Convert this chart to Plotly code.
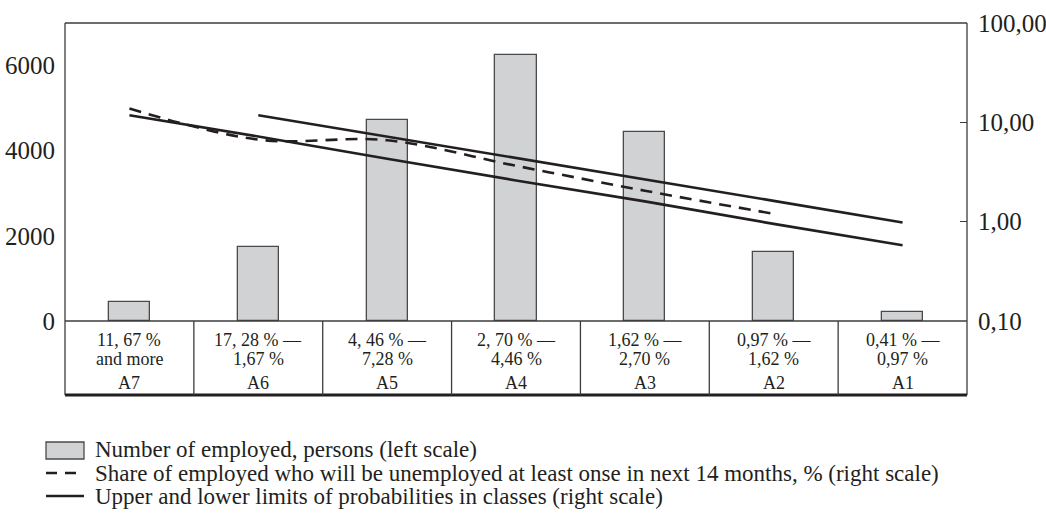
import plotly.graph_objects as go

# ---- data -----------------------------------------------------------------
classes = ["A7", "A6", "A5", "A4", "A3", "A2", "A1"]
range_top = ["11, 67 %", "17, 28 % —", "4, 46 % —", "2, 70 % —",
             "1,62 % —", "0,97 % —", "0,41 % —"]
range_bottom = ["and more", "1,67 %", "7,28 %", "4,46 %",
                "2,70 %", "1,62 %", "0,97 %"]

employed = [450, 1750, 4730, 6250, 4450, 1620, 220]          # persons, left scale
share_unemployed = [13.8, 6.7, 6.6, 3.65, 2.05, 1.20, None]  # %, right scale
upper_limit = [None, 11.8, 7.2, 4.4, 2.65, 1.62, 0.98]        # %, right scale
lower_limit = [11.8, 7.2, 4.3, 2.6, 1.6, 0.95, 0.58]          # %, right scale

left_ticks = [0, 2000, 4000, 6000]
right_ticks = [0.1, 1, 10, 100]
right_ticktext = ["0,10", "1,00", "10,00", "100,00"]

legend_labels = [
    "Number of employed, persons (left scale)",
    "Share of employed who will be unemployed at least onse in next 14 months, % (right scale)",
    "Upper and lower limits of probabilities in classes (right scale)",
]

# ---- styling --------------------------------------------------------------
W, H = 1046, 513
ML, MR, MT, MB = 65, 79, 23, 192
PLOT_W = W - ML - MR
PLOT_H = H - MT - MB
FONT = "Liberation Serif, Times New Roman, serif"
INK = "#231f20"
FRAME = "#3c3c3c"
BAR_FILL = "#d1d2d4"


def px_x(px):
    """Horizontal page pixel -> paper coordinate."""
    return (px - ML) / PLOT_W


def px_y(py):
    """Vertical page pixel -> paper coordinate."""
    return (H - MB - py) / PLOT_H


fig = go.Figure()

fig.add_trace(go.Bar(
    x=classes, y=employed, name=legend_labels[0], yaxis="y",
    width=0.32, marker=dict(color=BAR_FILL, line=dict(color="#4a4a4a", width=1.3)),
    showlegend=False,
))
fig.add_trace(go.Scatter(
    x=classes, y=share_unemployed, name=legend_labels[1], yaxis="y2",
    mode="lines", line=dict(color=INK, width=2.6, dash="12px,8px",
                            shape="spline", smoothing=1.0),
    showlegend=False,
))
fig.add_trace(go.Scatter(
    x=classes, y=upper_limit, name="Upper limit", yaxis="y2",
    mode="lines", line=dict(color=INK, width=2.6), showlegend=False,
))
fig.add_trace(go.Scatter(
    x=classes, y=lower_limit, name="Lower limit", yaxis="y2",
    mode="lines", line=dict(color=INK, width=2.6), showlegend=False,
))

shapes = []
table_bottom = px_y(395)

# frame of plot + class table
shapes.append(dict(type="line", xref="paper", yref="paper", x0=0, x1=1, y0=1, y1=1,
                   line=dict(color=FRAME, width=1.3)))
shapes.append(dict(type="line", xref="paper", yref="paper", x0=0, x1=0, y0=table_bottom, y1=1,
                   line=dict(color=FRAME, width=1.3)))
shapes.append(dict(type="line", xref="paper", yref="paper", x0=1, x1=1, y0=table_bottom, y1=1,
                   line=dict(color=FRAME, width=1.3)))
shapes.append(dict(type="line", xref="paper", yref="paper", x0=0, x1=1, y0=0, y1=0,
                   line=dict(color=FRAME, width=1.3)))
shapes.append(dict(type="line", xref="paper", yref="paper", x0=0, x1=1,
                   y0=table_bottom, y1=table_bottom, line=dict(color=INK, width=2.8)))
for i in range(len(classes) - 1):
    shapes.append(dict(type="line", xref="x", yref="paper", x0=i + 0.5, x1=i + 0.5,
                       y0=table_bottom, y1=0, line=dict(color=FRAME, width=1.3)))

annotations = []
for cls, top, bottom in zip(classes, range_top, range_bottom):
    for text, py in ((top, 340), (bottom, 359), (cls, 383)):
        annotations.append(dict(
            x=cls, xref="x", y=px_y(py), yref="paper", text=text, showarrow=False,
            xanchor="center", yanchor="middle",
            font=dict(family=FONT, size=18, color=INK),
        ))

# legend drawn beneath the class table
lx0, lx1 = px_x(46), px_x(84)
shapes.append(dict(type="rect", xref="paper", yref="paper", x0=lx0, x1=lx1,
                   y0=px_y(459), y1=px_y(442), fillcolor=BAR_FILL,
                   line=dict(color="#4a4a4a", width=1.3)))
shapes.append(dict(type="line", xref="paper", yref="paper", x0=lx0, x1=lx1,
                   y0=px_y(473), y1=px_y(473),
                   line=dict(color=INK, width=2.6, dash="11px,8px")))
shapes.append(dict(type="line", xref="paper", yref="paper", x0=lx0, x1=lx1,
                   y0=px_y(496), y1=px_y(496), line=dict(color=INK, width=2.6)))
for text, py in zip(legend_labels, (450, 473, 496)):
    annotations.append(dict(
        x=px_x(93), xref="paper", y=px_y(py), yref="paper", text=text,
        showarrow=False, xanchor="left", yanchor="middle",
        font=dict(family=FONT, size=23, color=INK),
    ))

fig.update_layout(
    width=W, height=H,
    margin=dict(l=ML, r=MR, t=MT, b=MB, pad=0, autoexpand=False),
    paper_bgcolor="white", plot_bgcolor="white",
    font=dict(family=FONT, color=INK),
    showlegend=False,
    bargap=0,
    xaxis=dict(type="category", range=[-0.5, 6.5], showticklabels=False,
               showgrid=False, zeroline=False, showline=False, ticks="",
               automargin=False),
    yaxis=dict(range=[0, 7000], tickvals=left_ticks, showgrid=False,
               zeroline=False, showline=False, ticks="",
               ticklabelstandoff=9, automargin=False,
               tickfont=dict(family=FONT, size=25, color=INK)),
    yaxis2=dict(type="log", range=[-1, 2], overlaying="y", side="right",
                tickvals=right_ticks, ticktext=right_ticktext,
                showgrid=False, zeroline=False, showline=False,
                ticks="inside", ticklen=7, tickwidth=1.3, tickcolor=FRAME,
                ticklabelstandoff=10, automargin=False,
                tickfont=dict(family=FONT, size=25, color=INK)),
    shapes=shapes,
    annotations=annotations,
)

fig.write_html("out.html")
